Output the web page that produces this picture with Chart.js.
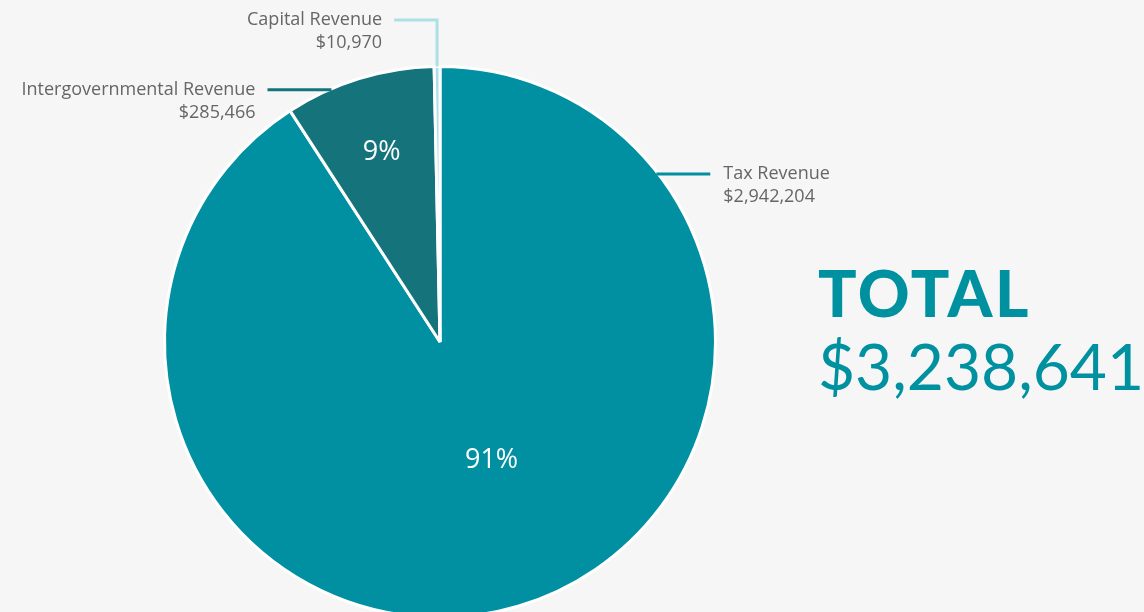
<!DOCTYPE html>
<html>
<head>
<meta charset="utf-8">
<script src="https://cdn.jsdelivr.net/npm/chart.js@4"></script>
<style>
  html, body { margin:0; padding:0; background:#f6f6f6; width:1144px; height:612px; overflow:hidden; }
  #wrap { position:absolute; left:0; top:0; width:1144px; height:700px; }
  #total { position:absolute; left:818px; top:258px; color:#0091a1; font-family:Lato, "Open Sans", sans-serif; }
  #total .t { font-weight:900; font-size:64px; line-height:70px; letter-spacing:2.5px; }
  #total .v { font-weight:400; font-size:64px; line-height:70px; margin-top:3px; }
</style>
</head>
<body>
<div id="wrap"><canvas id="c" width="1144" height="700"></canvas></div>
<div id="total"><div class="t">TOTAL</div><div class="v" id="tv"></div></div>
<script>
const categories = ["Tax Revenue", "Intergovernmental Revenue", "Capital Revenue"];
const values = [2942204, 285466, 10970];
const totalValue = 3238641;
const colors = ["#0090a1", "#15747b", "#ade0e3"];

const fmt = v => "$" + v.toLocaleString("en-US");
document.getElementById("tv").textContent = fmt(totalValue);
const sum = values.reduce((a, b) => a + b, 0);

const labelLayout = [
  { side: "right", yFrac: -0.61, lineLen: 54, textGap: 13 },
  { side: "left", yFrac: -0.916, lineLen: 64, textGap: 12 },
  { side: "up", yTop: 20, lineLen: 43, textGap: 12 }
];
const pctLayout = [ { d: 0.47, da: -7 }, { d: 0.72, da: 0 }, { d: 0.7, da: 0 } ];

const calloutPlugin = {
  id: "callouts",
  afterDatasetsDraw(chart) {
    const ctx = chart.ctx;
    const meta = chart.getDatasetMeta(0);
    ctx.save();
    meta.data.forEach((arc, i) => {
      const { x, y, outerRadius, startAngle, endAngle } = arc.getProps(["x","y","outerRadius","startAngle","endAngle"], true);
      const mid = (startAngle + endAngle) / 2;
      const r = outerRadius;
      const pct = Math.round(values[i] / sum * 100);
      if (pct >= 1) {
        const a = mid + pctLayout[i].da * Math.PI / 180;
        ctx.fillStyle = "#ffffff";
        ctx.font = "400 27px 'Open Sans', Lato, sans-serif";
        ctx.textAlign = "center";
        ctx.textBaseline = "middle";
        ctx.fillText(pct + "%", x + Math.cos(a) * r * pctLayout[i].d, y + Math.sin(a) * r * pctLayout[i].d);
      }
      const L = labelLayout[i];
      ctx.strokeStyle = colors[i];
      ctx.lineWidth = 3;
      ctx.font = "400 18px 'Open Sans', Lato, sans-serif";
      ctx.fillStyle = "#666666";
      ctx.textBaseline = "middle";
      let tx, ty, align;
      if (L.side === "right" || L.side === "left") {
        const ly = y + L.yFrac * r;
        const dy = ly - y;
        const dx = Math.sqrt(Math.max(0, r * r - dy * dy));
        const sx = L.side === "right" ? x + dx - 2 : x - dx + 2;
        const ex = L.side === "right" ? sx + L.lineLen : sx - L.lineLen;
        ctx.beginPath(); ctx.moveTo(sx, ly); ctx.lineTo(ex, ly); ctx.stroke();
        tx = L.side === "right" ? ex + L.textGap : ex - L.textGap;
        ty = ly;
        align = L.side === "right" ? "left" : "right";
      } else {
        const px = x + Math.cos(mid) * r;
        const py = y + Math.sin(mid) * r;
        ctx.beginPath(); ctx.moveTo(px, py); ctx.lineTo(px, L.yTop); ctx.lineTo(px - L.lineLen, L.yTop); ctx.stroke();
        tx = px - L.lineLen - L.textGap;
        ty = L.yTop;
        align = "right";
      }
      ctx.textAlign = align;
      ctx.fillText(categories[i], tx, ty);
      ctx.fillText(fmt(values[i]), tx, ty + 23);
    });
    ctx.restore();
  }
};

new Chart(document.getElementById("c"), {
  type: "pie",
  data: {
    labels: categories,
    datasets: [{
      data: values,
      backgroundColor: colors,
      borderColor: "#ffffff",
      borderWidth: 3
    }]
  },
  options: {
    responsive: false,
    animation: false,
    layout: { padding: { left: 163, right: 427, top: 65, bottom: 81 } },
    plugins: { legend: { display: false }, tooltip: { enabled: false } }
  },
  plugins: [calloutPlugin]
});
</script>
</body>
</html>
